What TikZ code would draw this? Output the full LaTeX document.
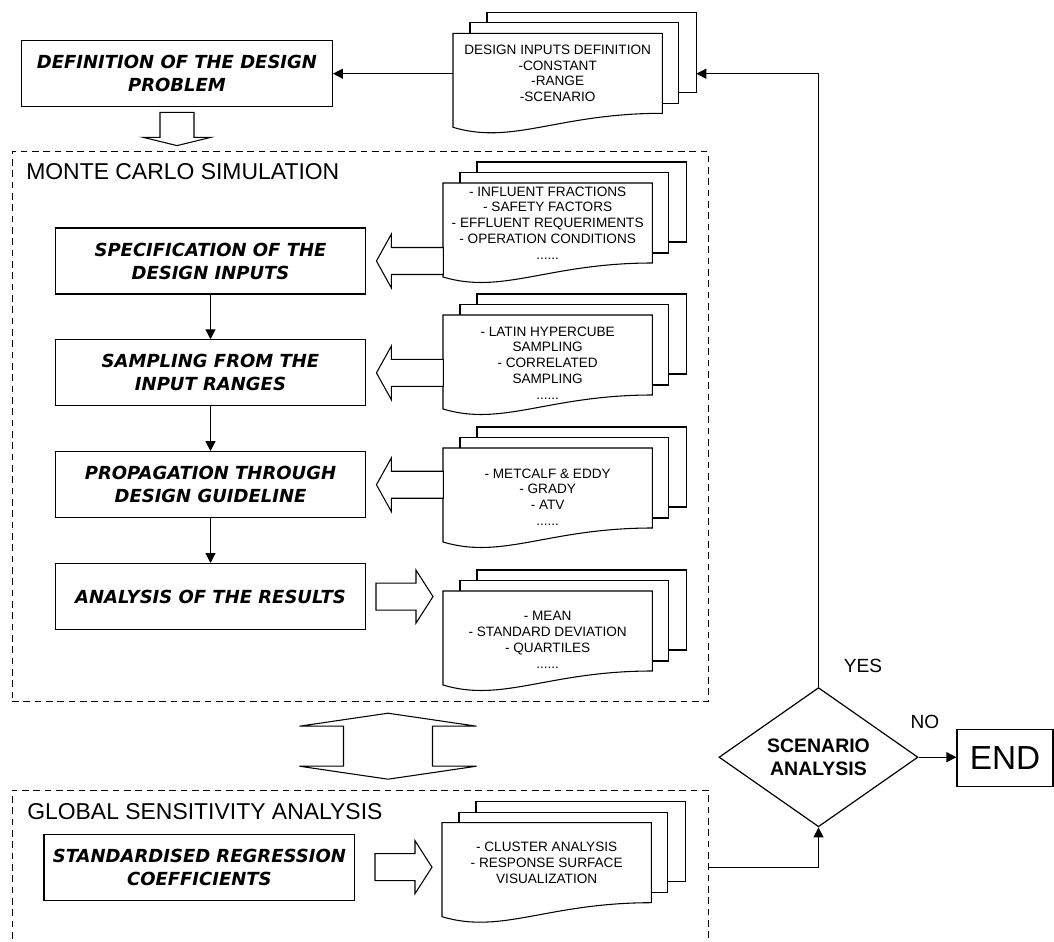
\documentclass[tikz,border=0pt]{standalone}
\usepackage{fontspec}
\setmainfont{Liberation Sans}
\newfontfamily\verdana{DejaVu Sans}
\usetikzlibrary{positioning, arrows.meta, shapes.geometric, calc, backgrounds}
\tikzset{
    >={Triangle[length=7.5pt,width=7.5pt]}, % filled arrow heads
    node distance=33.5pt, % gap between the steps of the simulation
    stepbox/.style={draw, line width=0.9pt, minimum width=233pt, minimum height=49.5pt, align=center,
        font=\verdana\bfseries\itshape\fontsize{13.5}{17.3}\selectfont},
    partframe/.style={draw, line width=0.75pt, dash pattern=on 5pt off 3.5pt, inner sep=0pt},
    parttitle/.style={font=\fontsize{17.2}{20}\selectfont, inner sep=0pt},
    docframe/.style={minimum width=157pt, minimum height=60pt, inner sep=0pt, outer sep=0pt},
    doctext/.style={align=center, inner sep=0pt, font=\fontsize{10.2}{11.85}\selectfont},
    sheet/.style={draw, fill=white, line width=0.8pt},
    hollow/.style={draw, fill=white, line width=0.8pt, line join=miter},
    arr/.style={->, line width=0.9pt},
    decision/.style={diamond, draw, line width=0.9pt, minimum width=149.25pt, minimum height=98.25pt,
        inner sep=0pt, align=center, font=\bfseries\fontsize{14.6}{17}\selectfont},
    endbox/.style={draw, line width=0.9pt, minimum width=72pt, minimum height=43pt, font=\fontsize{25}{30}\selectfont},
    answer/.style={font=\fontsize{14.3}{17}\selectfont, inner sep=0pt},
}
% stack of three sheets behind a document node
\newcommand\docstack[1]{%
  \begin{pgfonlayer}{background}
    \draw[sheet] ([shift={(34,-21)}]#1.north west) rectangle ([shift={(34,-21)}]#1.south east);
    \draw[sheet] ([shift={(17,-10.5)}]#1.north west) rectangle ([shift={(16,-10)}]#1.south east);
    \draw[sheet] (#1.north west) -- (#1.north east) -- (#1.south east)
      .. controls ($(#1.south west)+(105,0)$) and ($(#1.south west)+(60,32)$) .. ($(#1.south west)+(0,14)$) -- cycle;
  \end{pgfonlayer}}
% block arrow pointing left at a step box
\newcommand\fatleft[1]{%
  \draw[hollow] ([xshift=7.5pt]#1.east) -- ++(15,-27) -- ++(0,13.5) -- ++(52,0) -- ++(0,27) -- ++(-52,0) -- ++(0,13.5) -- cycle;}
% block arrow from a step box to a document
\newcommand\fatright[2]{%
  \draw[hollow] ($(#2.west |- #1.east)+(-10,0)$) -- ++(-17,-26.5) -- ++(0,13) -- ++(-40,0) -- ++(0,27) -- ++(40,0) -- ++(0,13) -- cycle;}

\begin{document}
\begin{tikzpicture}[x=0.75pt, y=-0.75pt]
  \useasboundingbox (0,0) rectangle (1054,942);
  \clip (0,0) rectangle (1054,942);

  % design problem
  \node[stepbox] (def) at (177,73.7) {DEFINITION OF THE DESIGN\\PROBLEM};
  \node[docframe, anchor=north west] (din) at (453,33.3) {};
  \node[doctext] (din-txt) at (din) {DESIGN INPUTS DEFINITION\\-CONSTANT\\-RANGE\\-SCENARIO};
  \docstack{din}
  \coordinate (din-back) at ([xshift=25.5pt]din.east);
  \draw[arr] (din.west |- def.east) -- (def.east);
  \draw[hollow] ($(def.south)+(-17,5)$) -- ++(0,25) -- ++(-17,0) -- ++(34,8.3) -- ++(34,-8.3) -- ++(-17,0) -- ++(0,-25) -- cycle;

  % Monte Carlo simulation
  \node[partframe, minimum width=522pt, minimum height=412.5pt] (mc) at (360,426.7) {};
  \node[parttitle, anchor=base west] (mc-title) at (26,180) {MONTE CARLO SIMULATION};
  \node[stepbox] (b1) at (210.5,261) {SPECIFICATION OF THE\\DESIGN INPUTS};
  \node[stepbox, below=of b1] (b2) {SAMPLING FROM THE\\INPUT RANGES};
  \node[stepbox, below=of b2] (b3) {PROPAGATION THROUGH\\DESIGN GUIDELINE};
  \node[stepbox, below=of b3] (b4) {ANALYSIS OF THE RESULTS};
  \draw[arr] (b1) -- (b2);
  \draw[arr] (b2) -- (b3);
  \draw[arr] (b3) -- (b4);

  \node[docframe, anchor=north west] (d1) at (443,183) {};
  \node[doctext] (d1-txt) at (d1) {- INFLUENT FRACTIONS\\- SAFETY FACTORS\\- EFFLUENT REQUERIMENTS\\- OPERATION CONDITIONS\\......};
  \node[docframe, anchor=north west] (d2) at (443,315) {};
  \node[doctext] (d2-txt) at ([yshift=-6pt]d2) {- LATIN HYPERCUBE\\SAMPLING\\- CORRELATED\\SAMPLING\\......};
  \node[docframe, anchor=north west] (d3) at (443,448) {};
  \node[doctext] (d3-txt) at ([yshift=-6.75pt]d3) {- METCALF \& EDDY\\- GRADY\\- ATV\\......};
  \node[docframe, anchor=north west] (d4) at (443,591) {};
  \node[doctext] (d4-txt) at ([yshift=-6.75pt]d4) {- MEAN\\- STANDARD DEVIATION\\- QUARTILES\\......};
  \docstack{d1}
  \docstack{d2}
  \docstack{d3}
  \docstack{d4}
  \fatleft{b1}
  \fatleft{b2}
  \fatleft{b3}
  \fatright{b4}{d4}

  % link between the two parts
  \draw[hollow] ($(mc.south)+(28,11)$) -- ++(88.5,13) -- ++(-44,0) -- ++(0,40) -- ++(44,0) -- ++(-88.5,13)
     -- ++(-88.5,-13) -- ++(44,0) -- ++(0,-40) -- ++(-44,0) -- cycle;

  % global sensitivity analysis
  \node[partframe, minimum width=522pt, minimum height=150pt] (gsa) at (360,890) {};
  \node[parttitle, anchor=base west] (gsa-title) at (27,819.3) {GLOBAL SENSITIVITY ANALYSIS};
  \node[stepbox] (src) at (199.4,867.2) {STANDARDISED REGRESSION\\COEFFICIENTS};
  \node[docframe, anchor=north west] (dg) at (442,822.7) {};
  \node[doctext] (dg-txt) at (dg) {- CLUSTER ANALYSIS\\- RESPONSE SURFACE\\VISUALIZATION};
  \docstack{dg}
  \fatright{src}{dg}

  % scenario decision
  \node[decision] (sc) at (818.5,757.2) {SCENARIO\\ANALYSIS};
  \node[endbox] (stop) at (1005,758) {END};
  \node[answer] (yes) at (863,666) {YES};
  \node[answer] (no) at (925,722) {NO};
  \draw[arr] (gsa.east |- src.east) -| (sc.south);
  \draw[arr] (sc.east) -- (sc.east -| stop.west);
  \draw[arr] (sc.north) |- (din-back |- def.east);
\end{tikzpicture}
\end{document}
